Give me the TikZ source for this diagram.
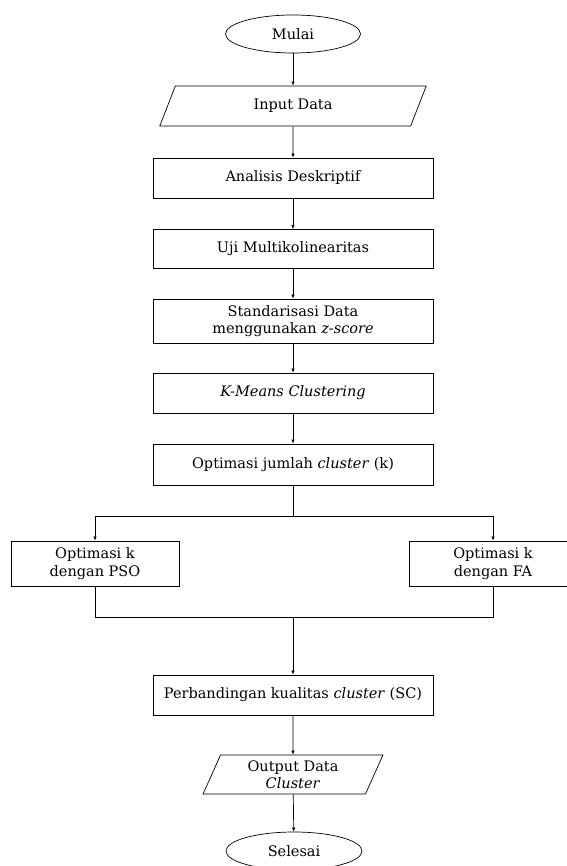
\documentclass[tikz,border=0pt]{standalone}
\usepackage{fontspec}
\setmainfont{DejaVu Serif}
\usepackage{tikz}
\usetikzlibrary{arrows.meta,shapes.geometric}

\begin{document}
\begin{tikzpicture}[x=1pt, y=-1pt, >=Latex,
  font=\fontsize{14.5}{17.5}\selectfont,
  term/.style={draw, ellipse, line width=0.7pt, inner sep=0pt,
               minimum width=135pt, minimum height=38pt},
  io/.style={draw, trapezium, trapezium left angle=69, trapezium right angle=111,
             trapezium stretches=true, line width=0.7pt, inner sep=0pt, align=center},
  proc/.style={draw, line width=0.8pt, inner sep=0pt, align=center,
               minimum width=280pt, minimum height=40pt},
  opt/.style={proc, minimum width=168pt, minimum height=45pt},
  flow/.style={->, line width=0.7pt, >={Latex[length=4pt,width=3.5pt]}},
  plain/.style={line width=0.7pt}]
  \useasboundingbox (0,0) rectangle (566,866);
  \node[term] (mulai) at (293,34) {Mulai};
  \node[io, minimum width=269pt, minimum height=40pt] (input) at (293,106) {Input Data};
  \node[proc] (desk) at (293,178) {Analisis Deskriptif};
  \node[proc, minimum height=39pt] (multi) at (293,249) {Uji Multikolinearitas};
  \node[proc, minimum height=44pt] (std) at (293,321) {Standarisasi Data\\menggunakan \textit{z-score}};
  \node[proc] (kmeans) at (293,393) {\textit{K-Means Clustering}};
  \node[proc, minimum height=41pt] (optk) at (293,464.5) {Optimasi jumlah \textit{cluster} (k)};
  \node[opt] (pso) at (95,563.5) {Optimasi k\\dengan PSO};
  \node[opt] (fa) at (493,563.5) {Optimasi k\\dengan FA};
  \node[proc] (banding) at (293,695) {Perbandingan kualitas \textit{cluster} (SC)};
  \node[io, minimum width=180pt, minimum height=39pt] (output) at (293,774.5) {Output Data\\\textit{Cluster}};
  \node[term, minimum width=136pt] (selesai) at (294,851) {Selesai};
  \coordinate (split) at (293,516);
  \coordinate (merge) at (293,617);
  \draw[flow] (mulai) -- (input);
  \draw[flow] (input) -- (desk);
  \draw[flow] (desk) -- (multi);
  \draw[flow] (multi) -- (std);
  \draw[flow] (std) -- (kmeans);
  \draw[flow] (kmeans) -- (optk);
  \draw[plain] (optk) -- (split);
  \draw[flow] (split) -| (pso);
  \draw[flow] (split) -| (fa);
  \draw[plain] (pso) |- (merge);
  \draw[plain] (fa) |- (merge);
  \draw[flow] (merge) -- (banding);
  \draw[flow] (banding) -- (output);
  \draw[flow] (output) -- (selesai);
\end{tikzpicture}
\end{document}
